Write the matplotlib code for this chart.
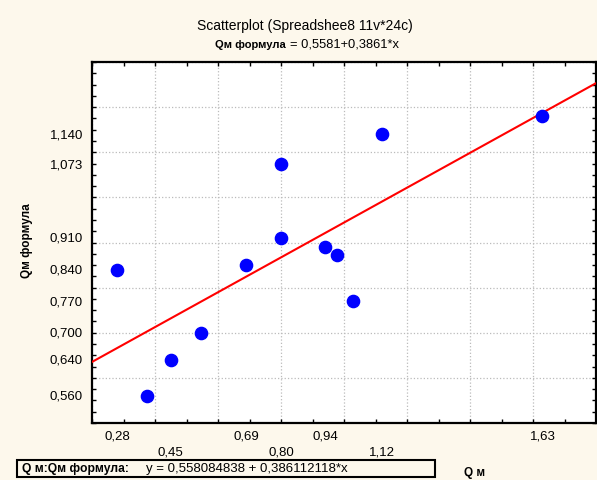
import matplotlib
matplotlib.use('Agg')
import matplotlib.pyplot as plt
import matplotlib.transforms as mtrans
from matplotlib.patches import Rectangle
from matplotlib.ticker import MultipleLocator

plt.rcParams['font.family'] = ['Liberation Sans', 'DejaVu Sans']
plt.rcParams['font.size'] = 9.5

# data
q_m = [0.28, 0.374, 0.45, 0.545, 0.69, 0.80, 0.80, 0.94, 0.977, 1.029, 1.12, 1.63]
qm_formula = [0.84, 0.56, 0.64, 0.70, 0.85, 1.073, 0.91, 0.89, 0.872, 0.77, 1.14, 1.18]
intercept = 0.558084838
slope = 0.386112118

# tick labels (statistica puts data values as labels)
x_labels_top = [0.28, 0.69, 0.94, 1.63]
x_labels_low = [0.45, 0.80, 1.12]
y_labels = [0.560, 0.640, 0.700, 0.770, 0.840, 0.910, 1.073, 1.140]

bg = '#FDF8EC'
W, H = 597, 481

fig = plt.figure(figsize=(W / 100, H / 100), dpi=100, facecolor=bg)
ax = fig.add_axes([92 / W, 1 - 424 / H, 504 / W, 361 / H])
ax.set_facecolor('white')

ax.set_xlim(0.2, 1.8)
ax.set_ylim(0.5, 1.3)

# regression line over the whole axis
xs = [0.2, 1.8]
ax.plot(xs, [intercept + slope * x for x in xs], color='red', lw=1.5, zorder=3)
ax.plot(q_m, qm_formula, 'o', color='#0000FF', markersize=8.8, zorder=4)

ax.xaxis.set_major_locator(MultipleLocator(0.2))
ax.xaxis.set_minor_locator(MultipleLocator(0.1))
ax.yaxis.set_major_locator(MultipleLocator(0.1))
ax.yaxis.set_minor_locator(MultipleLocator(0.025))
ax.tick_params(which='both', direction='in', top=True, right=True,
               labelbottom=False, labelleft=False, length=3, width=1)
ax.grid(which='major', linestyle=':', color='#BBBBBB', lw=0.9)
for s in ax.spines.values():
    s.set_linewidth(1.6)

def fmt(v, n):
    return f'{v:.{n}f}'.replace('.', ',')

ytr = mtrans.blended_transform_factory(ax.transAxes, ax.transData)
for v in y_labels:
    ax.text(-0.018, v, fmt(v, 3), transform=ytr, ha='right', va='center')

xtr = mtrans.blended_transform_factory(ax.transData, ax.transAxes)
for v in x_labels_top:
    ax.text(v, -0.036, fmt(v, 2), transform=xtr, ha='center', va='center')
for v in x_labels_low:
    ax.text(v, -0.078, fmt(v, 2), transform=xtr, ha='center', va='center')

# titles
fig.text(305 / W, 1 - 26 / H, 'Scatterplot (Spreadshee8 11v*24c)', ha='center', va='center', fontsize=10)
fig.text(286 / W, 1 - 45 / H, 'Qм формула', ha='right', va='center', fontweight='bold', fontsize=8)
fig.text(290 / W, 1 - 45 / H, '= 0,5581+0,3861*x', ha='left', va='center', fontsize=9.3)

fig.text(27 / W, 1 - 241 / H, 'Qм формула', rotation=90, ha='center', va='center',
         fontweight='bold', fontsize=8.5)
fig.text(475 / W, 1 - 473 / H, 'Q м', ha='center', va='center', fontweight='bold', fontsize=8.5)

# regression box at bottom
fig.patches.append(Rectangle((17 / W, 1 - 478 / H), 418 / W, 17 / H, transform=fig.transFigure,
                             facecolor=bg, edgecolor='black', lw=1.5))
fig.text(22 / W, 1 - 469.5 / H, 'Q м:Qм формула:', ha='left', va='center', fontweight='bold', fontsize=8.7)
fig.text(146 / W, 1 - 469.5 / H, 'y = 0,558084838 + 0,386112118*x', ha='left', va='center')

fig.savefig('out.png', dpi=100, facecolor=bg)
